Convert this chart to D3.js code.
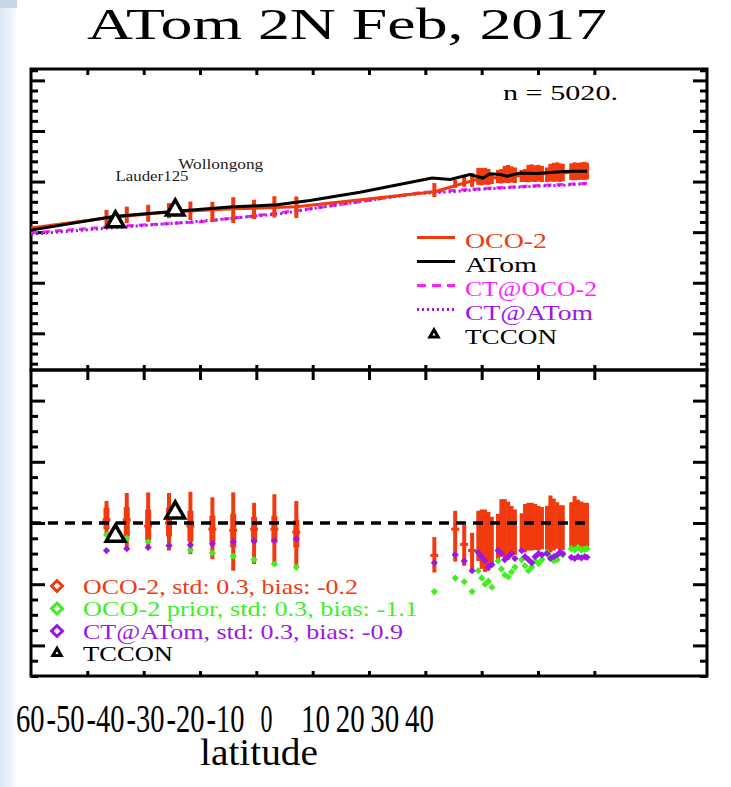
<!DOCTYPE html>
<html lang="en">
<head>
<meta charset="utf-8">
<title>ATom 2N Feb, 2017</title>
<script src="https://d3js.org/d3.v7.min.js"></script>
<style>
  body { margin: 0; background: #fff; }
  svg text { font-family: "Liberation Serif", "DejaVu Serif", serif; }
</style>
</head>
<body>
<div id="chart"></div>
<script>
// ---- values ----
var latTicks  = [-50, -40, -30, -20, -10, 0, 10, 20, 30, 40];
var latLabels = [-60, -50, -40, -30, -20, -10, 0, 10, 20, 30, 40];
var topMajor  = [400, 402, 404, 406, 408, 410];
var botMajor  = [-2, -1, 0, 1, 2];

// ATom curtain (upper panel, ppm)
var atomLat = [-60, -45.4, -34.8, -24.7, -16.3, -10.5, -1.6, 11.2, 14.4, 17.9, 20.2, 21.5, 23.3, 24.5, 26.8, 29.8, 32.7, 35.7, 38.7];
var atomCO2 = [404.08, 404.62, 404.82, 404.99, 405.08, 405.25, 405.58, 406.14, 406.08, 406.28, 406.14, 406.31, 406.28, 406.21, 406.34, 406.32, 406.37, 406.41, 406.41];

// CarbonTracker sampled at OCO-2 and at ATom
var ctOcoLat  = [-60, -45.4, -29.8, -16.3, -1.6, 9, 20, 30, 38.7];
var ctOcoCO2  = [403.97, 404.22, 404.41, 404.75, 405.2, 405.56, 405.72, 405.84, 405.93];
var ctAtomLat = [-60, -45, -30, -16, -1.6, 9, 15, 20, 25, 30, 35, 38.7];
var ctAtomCO2 = [403.92, 404.18, 404.43, 404.72, 405.22, 405.53, 405.6, 405.7, 405.76, 405.82, 405.86, 405.92];

// OCO-2 line (upper panel)
var ocoLineLat = [-60, -46.6, -35.5, -24.1, -12.9, 11.6, 19.4, 25, 30, 35, 38.7];
var ocoLineCO2 = [404.16, 404.56, 404.8, 404.92, 405.0, 405.6, 406.1, 406.2, 406.3, 406.35, 406.4];

// OCO-2 soundings: latitude, upper panel range, lower panel differences
var ocoLat = [-46.6, -43.0, -39.2, -35.5, -31.7, -27.8, -24.1, -20.4, -16.8, -12.9,
  11.6, 15.3, 16.9, 18.3,
  19.4, 20.0, 20.6, 21.2, 21.8,
  22.9, 23.5, 24.1, 24.7, 25.3, 25.9,
  27.1, 27.7, 28.3, 28.9, 29.5, 30.1, 30.7,
  31.6, 32.2, 32.8, 33.4, 33.9, 34.4,
  35.9, 36.5, 37.1, 37.7, 38.3, 38.7];
var ocoHi = [404.88, 405.01, 405.08, 405.15, 405.21, 405.2, 405.38, 405.28, 405.42, 405.41,
  405.94, 406.06, 406.26, 406.34,
  406.54, 406.54, 406.54, 406.5, 406.26,
  406.46, 406.5, 406.62, 406.66, 406.6, 406.56,
  406.46, 406.5, 406.66, 406.68, 406.64, 406.66, 406.62,
  406.56, 406.7, 406.74, 406.76, 406.72, 406.7,
  406.72, 406.76, 406.74, 406.76, 406.78, 406.74];
var ocoLo = [404.21, 404.36, 404.41, 404.55, 404.48, 404.41, 404.36, 404.52, 404.58, 404.56,
  405.39, 405.75, 405.79, 405.79,
  405.87, 405.85, 405.88, 405.87, 405.9,
  405.94, 405.92, 405.95, 405.94, 405.96, 405.94,
  405.98, 405.98, 405.97, 405.99, 405.98, 406.0, 405.98,
  405.98, 406.0, 405.99, 406.0, 405.98, 406.02,
  406.06, 406.05, 406.06, 406.07, 406.06, 406.08];
var diffHi = [0.36, 0.49, 0.50, 0.49, 0.51, 0.42, 0.50, 0.33, 0.47, 0.36,
  -0.23, 0.2, -0.03, -0.16,
  0.2, 0.22, 0.22, 0.18, 0.1,
  0.15, 0.39, 0.39, 0.35, 0.28, 0.22,
  0.16, 0.31, 0.33, 0.33, 0.31, 0.28, 0.26,
  0.28, 0.45, 0.4, 0.34, 0.29, 0.29,
  0.34, 0.44, 0.38, 0.35, 0.33, 0.33];
var diffLo = [-0.21, -0.39, -0.42, -0.45, -0.51, -0.59, -0.78, -0.67, -0.70, -0.74,
  -0.81, -0.63, -0.7, -0.78,
  -0.62, -0.75, -0.8, -0.78, -0.72,
  -0.6, -0.55, -0.57, -0.6, -0.55, -0.52,
  -0.45, -0.48, -0.45, -0.45, -0.44, -0.45, -0.43,
  -0.45, -0.48, -0.45, -0.42, -0.45, -0.44,
  -0.4, -0.42, -0.4, -0.42, -0.38, -0.4];
var diffMid = [0.05, 0.05, -0.05, 0.0, -0.05, -0.1, -0.12, -0.1, -0.1, -0.15,
  -0.53, -0.1, -0.35, -0.45,
  -0.2, -0.25, -0.3, -0.3, -0.3,
  -0.2, -0.1, -0.1, -0.12, -0.12, -0.15,
  -0.15, -0.1, -0.08, -0.08, -0.1, -0.1, -0.1,
  -0.1, -0.05, -0.05, -0.08, -0.1, -0.1,
  -0.05, 0.0, -0.02, -0.05, -0.05, -0.05];
// thicker part of the SH bars (most soundings)
var coreHi = [0.25, 0.26, 0.22, 0.25, 0.2, 0.12, 0.15, 0.1, 0.12, 0.05];
var coreLo = [-0.1, -0.22, -0.28, -0.22, -0.3, -0.32, -0.4, -0.3, -0.32, -0.4];
var priorDiff = [-0.19, -0.25, -0.31, -0.37, -0.44, -0.49, -0.54, -0.60, -0.67, -0.72,
  -1.12, -0.9, -0.96, -1.12,
  -0.78, -0.9, -1.0, -0.95, -1.05,
  -0.62, -0.75, -0.85, -0.88, -0.8, -0.72,
  -0.6, -0.7, -0.78, -0.72, -0.62, -0.66, -0.6,
  -0.48, -0.55, -0.62, -0.6, -0.5, -0.52,
  -0.42, -0.44, -0.4, -0.44, -0.43, -0.42];
var ctDiff = [-0.45, -0.42, -0.40, -0.37, -0.36, -0.34, -0.31, -0.30, -0.29, -0.26,
  -0.65, -0.52, -0.62, -0.78,
  -0.48, -0.55, -0.62, -0.72, -0.68,
  -0.45, -0.5, -0.6, -0.55, -0.5, -0.58,
  -0.45, -0.55, -0.6, -0.65, -0.55, -0.5, -0.52,
  -0.5, -0.58, -0.55, -0.52, -0.48, -0.5,
  -0.56, -0.58, -0.55, -0.57, -0.55, -0.56];

// TCCON sites
var tcconName = ["Lauder125", "Wollongong"];
var tcconLat  = [-45.0, -34.4];
var tcconCO2  = [404.41, 404.88];
var tcconDiff = [-0.21, 0.17];

var topLegend = ["OCO-2", "ATom", "CT@OCO-2", "CT@ATom", "TCCON"];
var botLegend = ["OCO-2, std: 0.3, bias: -0.2", "OCO-2 prior, std: 0.3, bias: -1.1",
                 "CT@ATom, std: 0.3, bias: -0.9", "TCCON"];

// ---- drawing ----
var red = "#f23a0f", green = "#3ef01e", purple = "#9a18e6", magenta = "#ff1eff";

var svg = d3.select("#chart").append("svg")
  .attr("width", 731)
  .attr("height", 787);

var x = d3.scaleLinear().domain([-60, 60]).range([31, 707]);
var yTop = d3.scaleLinear().domain([398.55, 410.45]).range([370, 69]);
var yBot = d3.scaleLinear().domain([-2.5, 2.5]).range([676, 370]);

var oco = ocoLat.map(function(lat, i) {
  return {lat: lat, hi: ocoHi[i], lo: ocoLo[i], dHi: diffHi[i], dLo: diffLo[i],
          dMid: diffMid[i], prior: priorDiff[i], ct: ctDiff[i],
          cHi: coreHi[i], cLo: coreLo[i]};
});

function minorsOf(scale, step, majors) {
  var d = scale.domain();
  return d3.range(Math.ceil(d[0] / step) * step, d[1], step).filter(function(v) {
    return !majors.some(function(m) { return Math.abs(m - v) < 1e-6; });
  });
}

function addAxis(axis, tx, ty) {
  var g = svg.append("g").attr("transform", "translate(" + tx + "," + ty + ")").call(axis);
  g.select(".domain").remove();
  g.selectAll(".tick line").attr("stroke", "#000").attr("stroke-width", 3);
  g.selectAll(".tick text").remove();
}

// frames
[[69, 370], [370, 676]].forEach(function(p) {
  svg.append("rect")
    .attr("x", 31).attr("y", p[0])
    .attr("width", 676).attr("height", p[1] - p[0])
    .attr("fill", "none").attr("stroke", "#000").attr("stroke-width", 3);
});

// ticks
var topMinor = minorsOf(yTop, 0.4, topMajor);
var botMinor = minorsOf(yBot, 0.25, botMajor);
[[yTop, topMajor, topMinor], [yBot, botMajor, botMinor]].forEach(function(s) {
  addAxis(d3.axisRight(s[0]).tickValues(s[1]).tickSize(14), 31, 0);
  addAxis(d3.axisRight(s[0]).tickValues(s[2]).tickSize(7), 31, 0);
  addAxis(d3.axisLeft(s[0]).tickValues(s[1]).tickSize(14), 707, 0);
  addAxis(d3.axisLeft(s[0]).tickValues(s[2]).tickSize(7), 707, 0);
});
addAxis(d3.axisBottom(x).tickValues(latTicks).tickSize(6), 0, 69);
addAxis(d3.axisTop(x).tickValues(latTicks).tickSize(5), 0, 370);
addAxis(d3.axisBottom(x).tickValues(latTicks).tickSize(10), 0, 370);
addAxis(d3.axisTop(x).tickValues(latTicks).tickSize(5), 0, 676);

// ---- upper panel ----
var up = svg.append("g");
function upLine(lats, vals) {
  return d3.line().x(function(d) { return x(d); })
    .y(function(d, i) { return yTop(vals[i]); })(lats);
}
up.append("path").attr("d", upLine(ctOcoLat, ctOcoCO2))
  .attr("fill", "none").attr("stroke", magenta).attr("stroke-width", 3)
  .attr("stroke-dasharray", "7,5");
up.append("path").attr("d", upLine(ctAtomLat, ctAtomCO2))
  .attr("fill", "none").attr("stroke", purple).attr("stroke-width", 3)
  .attr("stroke-dasharray", "2,3");
up.append("path").attr("d", upLine(ocoLineLat, ocoLineCO2))
  .attr("fill", "none").attr("stroke", red).attr("stroke-width", 3);
up.selectAll("line.bar").data(oco).join("line")
  .attr("class", "bar")
  .attr("x1", function(d) { return x(d.lat); })
  .attr("x2", function(d) { return x(d.lat); })
  .attr("y1", function(d) { return yTop(d.hi); })
  .attr("y2", function(d) { return yTop(d.lo); })
  .attr("stroke", red).attr("stroke-width", 4);
up.append("path").attr("d", upLine(atomLat, atomCO2))
  .attr("fill", "none").attr("stroke", "#000").attr("stroke-width", 3);

var tri = d3.symbol(d3.symbolTriangle, 130);
tcconLat.forEach(function(lat, i) {
  up.append("path").attr("d", tri)
    .attr("transform", "translate(" + x(lat) + "," + yTop(tcconCO2[i]) + ")")
    .attr("fill", "#fff").attr("stroke", "#000").attr("stroke-width", 3.5);
  up.append("text")
    .attr("x", x(lat) + (i === 0 ? 0 : 3))
    .attr("y", yTop(tcconCO2[i]) - 41)
    .attr("font-size", 14).attr("fill", "#222")
    .attr("textLength", i === 0 ? 73 : 85).attr("lengthAdjust", "spacingAndGlyphs")
    .text(tcconName[i]);
});

svg.append("text").attr("x", 503).attr("y", 100)
  .attr("font-size", 21).attr("textLength", 115).attr("lengthAdjust", "spacingAndGlyphs")
  .text("n = 5020.");

// upper legend
var topLegColor = [red, "#000", magenta, purple, "#000"];
var topLegDash = [null, null, "9,6", "2,3", null];
var topLegLen = [82, 72, 132, 128, 92];
topLegend.forEach(function(name, i) {
  var by = 247.5 + i * 24;
  if (i < 4) {
    svg.append("line").attr("x1", 417).attr("x2", 455)
      .attr("y1", by - 10).attr("y2", by - 10)
      .attr("stroke", topLegColor[i]).attr("stroke-width", 3)
      .attr("stroke-dasharray", topLegDash[i]);
  } else {
    svg.append("path").attr("d", d3.symbol(d3.symbolTriangle, 30))
      .attr("transform", "translate(434," + (by - 9) + ")")
      .attr("fill", "#fff").attr("stroke", "#000").attr("stroke-width", 3);
  }
  svg.append("text").attr("x", 465).attr("y", by)
    .attr("font-size", 21).attr("fill", topLegColor[i])
    .attr("textLength", topLegLen[i]).attr("lengthAdjust", "spacingAndGlyphs")
    .text(name);
});

// ---- lower panel ----
var lo = svg.append("g");
lo.selectAll("line.bar").data(oco).join("line")
  .attr("class", "bar")
  .attr("x1", function(d) { return x(d.lat); })
  .attr("x2", function(d) { return x(d.lat); })
  .attr("y1", function(d) { return yBot(d.dHi); })
  .attr("y2", function(d) { return yBot(d.dLo); })
  .attr("stroke", red).attr("stroke-width", 4);
lo.selectAll("line.core").data(oco.slice(0, 10)).join("line")
  .attr("class", "core")
  .attr("x1", function(d) { return x(d.lat); })
  .attr("x2", function(d) { return x(d.lat); })
  .attr("y1", function(d) { return yBot(d.cHi); })
  .attr("y2", function(d) { return yBot(d.cLo); })
  .attr("stroke", red).attr("stroke-width", 6);
lo.selectAll("line.mid").data(oco.slice(0, 14)).join("line")
  .attr("class", "mid")
  .attr("x1", function(d) { return x(d.lat) - 4; })
  .attr("x2", function(d) { return x(d.lat) + 4; })
  .attr("y1", function(d) { return yBot(d.dMid); })
  .attr("y2", function(d) { return yBot(d.dMid); })
  .attr("stroke", red).attr("stroke-width", 3);

var dia = d3.symbol(d3.symbolSquare, 26);
[["prior", green], ["ct", purple]].forEach(function(s) {
  lo.selectAll("path." + s[0]).data(oco).join("path")
    .attr("class", s[0])
    .attr("d", dia)
    .attr("transform", function(d) {
      return "translate(" + x(d.lat) + "," + yBot(d[s[0]]) + ") rotate(45)";
    })
    .attr("fill", s[1]);
});

lo.append("line")
  .attr("x1", x(atomLat[0])).attr("x2", x(atomLat[atomLat.length - 1]))
  .attr("y1", yBot(0)).attr("y2", yBot(0))
  .attr("stroke", "#000").attr("stroke-width", 3.5).attr("stroke-dasharray", "10,7");

tcconLat.forEach(function(lat, i) {
  lo.append("path").attr("d", d3.symbol(d3.symbolTriangle, 150))
    .attr("transform", "translate(" + x(lat) + "," + yBot(tcconDiff[i]) + ")")
    .attr("fill", "#fff").attr("stroke", "#000").attr("stroke-width", 3.5);
});

// lower legend
var botLegColor = [red, green, purple, "#000"];
var botLegLen = [275, 335, 320, 90];
botLegend.forEach(function(name, i) {
  var by = 593.5 + i * 22.5;
  if (i < 3) {
    svg.append("path").attr("d", d3.symbol(d3.symbolSquare, 60))
      .attr("transform", "translate(57," + (by - 7.5) + ") rotate(45)")
      .attr("fill", "#fff").attr("stroke", botLegColor[i]).attr("stroke-width", 3);
  } else {
    svg.append("path").attr("d", d3.symbol(d3.symbolTriangle, 30))
      .attr("transform", "translate(57," + (by - 8) + ")")
      .attr("fill", "#fff").attr("stroke", "#000").attr("stroke-width", 3);
  }
  svg.append("text").attr("x", 83).attr("y", by)
    .attr("font-size", 21).attr("fill", botLegColor[i])
    .attr("textLength", botLegLen[i]).attr("lengthAdjust", "spacingAndGlyphs")
    .text(name);
});

// latitude labels (the source image has them squeezed to the left)
var labelX = d3.scaleLinear().domain([-60, -10, 0, 10, 40]).range([25, 225, 266, 315, 419]);
var lab = svg.append("g").attr("transform", "translate(0,732)")
  .call(d3.axisBottom(labelX).tickValues(latLabels).tickSize(0)
    .tickFormat(function(d) { return String(d); }));
lab.select(".domain").remove();
lab.selectAll("text")
  .attr("y", 0).attr("dy", 0)
  .attr("font-size", 39).attr("fill", "#000")
  .attr("font-family", "Liberation Serif, serif")
  .attr("textLength", function(d) { return d < 0 ? 38 : d === 0 ? 12 : 29; })
  .attr("lengthAdjust", "spacingAndGlyphs");

svg.append("text").attr("x", 200).attr("y", 765)
  .attr("font-size", 37).attr("textLength", 118).attr("lengthAdjust", "spacingAndGlyphs")
  .text("latitude");

svg.append("text").attr("x", 87).attr("y", 39)
  .attr("font-size", 44).attr("textLength", 520).attr("lengthAdjust", "spacingAndGlyphs")
  .text("ATom 2N Feb, 2017");

// slide background showing at the left edge
var grad = svg.append("defs").append("linearGradient").attr("id", "edge");
grad.append("stop").attr("offset", "0%").attr("stop-color", "#dfe8f6");
grad.append("stop").attr("offset", "65%").attr("stop-color", "#edf2fa");
grad.append("stop").attr("offset", "100%").attr("stop-color", "#fbfcfe");
svg.append("rect").attr("x", 0).attr("y", 0).attr("width", 16).attr("height", 787)
  .attr("fill", "url(#edge)");
svg.append("rect").attr("x", 0).attr("y", 0).attr("width", 17).attr("height", 8)
  .attr("fill", "#c9d4e7");
</script>
</body>
</html>
